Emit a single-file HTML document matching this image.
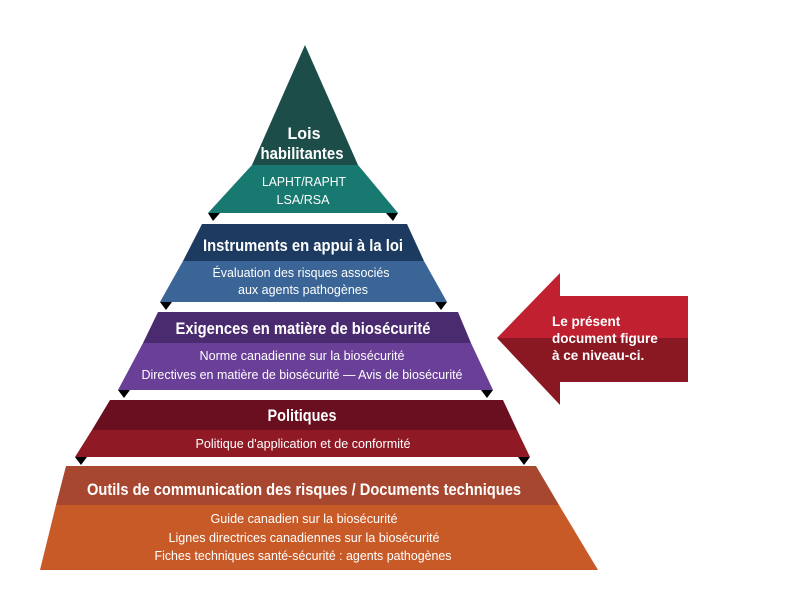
<!DOCTYPE html>
<html><head><meta charset="utf-8"><style>html,body{margin:0;padding:0;background:#fff}svg{display:block}</style></head>
<body>
<svg width="800" height="608" viewBox="0 0 800 608" xmlns="http://www.w3.org/2000/svg" font-family="Liberation Sans, Arial, sans-serif">
<!-- tier 1 -->
<polygon points="305,45 252,165 358,165" fill="#1c4d48"/>
<polygon points="252,165 358,165 398,213 208,213" fill="#17796f"/>
<polygon points="208,213 220,213 213,221" fill="#000"/>
<polygon points="386,213 398,213 393,221" fill="#000"/>
<!-- tier 2 -->
<polygon points="202,224 407,224 424,261 183,261" fill="#1d3b60"/>
<polygon points="183,261 424,261 447,302 160,302" fill="#3b6596"/>
<polygon points="160,302 172,302 166,310" fill="#000"/>
<polygon points="435,302 447,302 441,310" fill="#000"/>
<!-- tier 3 -->
<polygon points="158,312 458,312 471,343 143,343" fill="#4b2b70"/>
<polygon points="143,343 471,343 493,390 118,390" fill="#6a3f98"/>
<polygon points="118,390 130,390 124,398" fill="#000"/>
<polygon points="481,390 493,390 487,398" fill="#000"/>
<!-- tier 4 -->
<polygon points="110,400 503,400 517,430 92,430" fill="#6a0f1f"/>
<polygon points="92,430 517,430 530,457 75,457" fill="#8f1a26"/>
<polygon points="75,457 87,457 81,465" fill="#000"/>
<polygon points="518,457 530,457 524,465" fill="#000"/>
<!-- tier 5 -->
<polygon points="66,466 536,466 559,505 56,505" fill="#a8472f"/>
<polygon points="56,505 559,505 598,570 40,570" fill="#c85a28"/>
<!-- arrow -->
<polygon points="497,338 560,273 560,296 688,296 688,338" fill="#c0202f"/>
<polygon points="497,338 688,338 688,382 560,382 560,405" fill="#8a1822"/>
<g fill="#fff" text-anchor="middle" font-weight="bold" font-size="17">
<text x="304" y="139" textLength="33" lengthAdjust="spacingAndGlyphs">Lois</text>
<text x="302" y="159" textLength="83" lengthAdjust="spacingAndGlyphs">habilitantes</text>
<text x="303" y="251" textLength="200" lengthAdjust="spacingAndGlyphs">Instruments en appui à la loi</text>
<text x="303" y="334" textLength="255" lengthAdjust="spacingAndGlyphs">Exigences en matière de biosécurité</text>
<text x="302" y="421" textLength="69" lengthAdjust="spacingAndGlyphs">Politiques</text>
<text x="304" y="495" textLength="434" lengthAdjust="spacingAndGlyphs">Outils de communication des risques / Documents techniques</text>
</g>
<g fill="#fff" text-anchor="middle" font-size="12.5">
<text x="304" y="186" textLength="84" lengthAdjust="spacingAndGlyphs">LAPHT/RAPHT</text>
<text x="303" y="204" textLength="53" lengthAdjust="spacingAndGlyphs">LSA/RSA</text>
<text x="301" y="277" textLength="177" lengthAdjust="spacingAndGlyphs">Évaluation des risques associés</text>
<text x="303" y="294" textLength="130" lengthAdjust="spacingAndGlyphs">aux agents pathogènes</text>
<text x="302" y="360" textLength="205" lengthAdjust="spacingAndGlyphs">Norme canadienne sur la biosécurité</text>
<text x="302" y="379" textLength="321" lengthAdjust="spacingAndGlyphs">Directives en matière de biosécurité — Avis de biosécurité</text>
<text x="303" y="448" textLength="215" lengthAdjust="spacingAndGlyphs">Politique d'application et de conformité</text>
<text x="304" y="523" textLength="187" lengthAdjust="spacingAndGlyphs">Guide canadien sur la biosécurité</text>
<text x="304" y="542" textLength="271" lengthAdjust="spacingAndGlyphs">Lignes directrices canadiennes sur la biosécurité</text>
<text x="303" y="560" textLength="297" lengthAdjust="spacingAndGlyphs">Fiches techniques santé-sécurité : agents pathogènes</text>
</g>
<g fill="#fff" font-weight="bold" font-size="13.5">
<text x="552" y="326">Le présent</text>
<text x="552" y="343">document figure</text>
<text x="552" y="360">à ce niveau-ci.</text>
</g>
</svg>
</body></html>
